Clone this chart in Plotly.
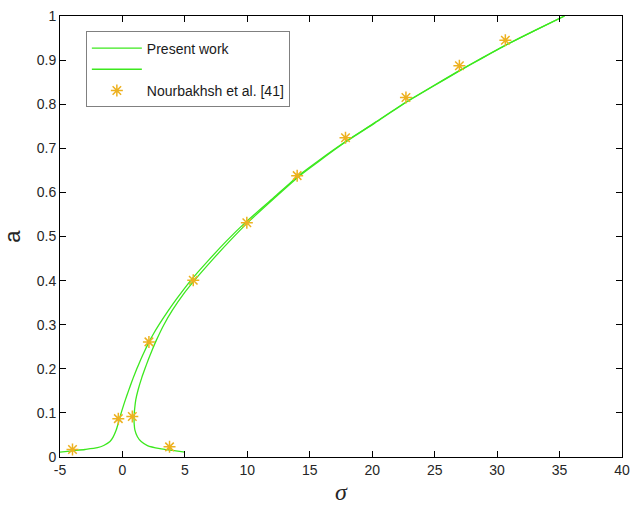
import plotly.graph_objects as go

# Present work - branch 1 (left / upper branch)
sigma_branch1 = [-5.0, -4.0, -3.0, -2.0, -1.5, -1.0, -0.75, -0.5, -0.3, -0.1,
                 0.12, 0.36, 0.61, 0.87, 1.15, 1.45, 1.77, 2.11, 2.5, 2.93,
                 3.63, 4.38, 5.46, 6.92, 8.34, 9.85, 12.1, 14.1, 15.75, 17.75,
                 20.15, 22.55, 24.8, 26.9, 28.8, 30.6, 33.0, 35.4]
a_branch1 = [0.011, 0.014, 0.017, 0.021, 0.026, 0.035, 0.045, 0.061, 0.080, 0.100,
             0.12, 0.14, 0.16, 0.18, 0.20, 0.22, 0.24, 0.26, 0.28, 0.30,
             0.33, 0.36, 0.40, 0.447, 0.49, 0.532, 0.588, 0.638, 0.673, 0.713,
             0.757, 0.802, 0.840, 0.875, 0.905, 0.933, 0.967, 1.0]

# Present work - branch 2 (right / lower branch)
sigma_branch2 = [5.0, 4.0, 3.0, 2.0, 1.5, 1.2, 1.0, 0.94, 0.93, 0.95,
                 0.98, 1.07, 1.25, 1.55, 1.8, 2.06, 2.34, 2.72, 3.32, 4.0,
                 4.9, 5.75, 7.2, 8.6, 10.05, 12.2, 14.2, 15.85, 17.8,
                 20.2, 22.6, 24.85, 26.95, 28.85, 30.65, 33.0, 35.4]
a_branch2 = [0.011, 0.015, 0.019, 0.026, 0.035, 0.046, 0.061, 0.075, 0.09, 0.10,
             0.11, 0.13, 0.152, 0.18, 0.20, 0.22, 0.24, 0.265, 0.30, 0.333,
             0.37, 0.40, 0.447, 0.49, 0.532, 0.588, 0.638, 0.673, 0.713,
             0.757, 0.802, 0.840, 0.875, 0.905, 0.933, 0.967, 1.0]

# Nourbakhsh et al. [41]
sigma_ref = [-4.0, -0.33, 0.79, 2.12, 3.77, 5.67, 9.96, 13.99, 17.86, 22.7, 26.98, 30.66]
a_ref = [0.017, 0.087, 0.092, 0.261, 0.023, 0.401, 0.531, 0.638, 0.724, 0.815, 0.887, 0.945]

x_ticks = [-5, 0, 5, 10, 15, 20, 25, 30, 35, 40]
x_tick_text = ["-5", "0", "5", "10", "15", "20", "25", "30", "35", "40"]
y_ticks = [0, 0.1, 0.2, 0.3, 0.4, 0.5, 0.6, 0.7, 0.8, 0.9, 1]
y_tick_text = ["0", "0.1", "0.2", "0.3", "0.4", "0.5", "0.6", "0.7", "0.8", "0.9", "1"]

green = "rgb(60,232,30)"
orange = "#EDB120"
sans = "Liberation Sans, Arial, sans-serif"

fig = go.Figure()
fig.add_trace(go.Scatter(x=sigma_branch1, y=a_branch1, mode="lines", name="Present work",
                         line=dict(color=green, width=1.3, shape="spline", smoothing=0.6)))
fig.add_trace(go.Scatter(x=sigma_branch2, y=a_branch2, mode="lines", name=" ",
                         line=dict(color=green, width=1.3, shape="spline", smoothing=0.6)))
fig.add_trace(go.Scatter(x=sigma_ref, y=a_ref, mode="markers", name="Nourbakhsh et al. [41]",
                         marker=dict(symbol="asterisk-open", size=10, color=orange,
                                     line=dict(color=orange, width=1.5))))

fig.update_layout(
    width=630, height=512,
    margin=dict(l=60, r=8, t=16, b=55, autoexpand=False),
    plot_bgcolor="white", paper_bgcolor="white",
    font=dict(family=sans, size=14, color="#262626"),
    showlegend=True,
    legend=dict(x=0.046, y=0.965, xanchor="left", yanchor="top",
                bordercolor="#808080", borderwidth=1, bgcolor="white",
                font=dict(family=sans, size=14, color="#1a1a1a"),
                tracegroupgap=0, itemwidth=50),
    xaxis=dict(range=[-5, 40], tickvals=x_ticks, ticktext=x_tick_text,
               ticks="inside", ticklen=6, automargin=False, ticklabeloverflow="allow",
               showline=True, linecolor="black", linewidth=1, mirror="ticks",
               showgrid=False, zeroline=False, tickcolor="black",
               tickfont=dict(family=sans, size=14, color="#262626"),
               title=dict(text="<i>σ</i>",
                          font=dict(family="Liberation Serif, serif", size=24, color="#262626"),
                          standoff=6)),
    yaxis=dict(range=[0, 1], tickvals=y_ticks, ticktext=y_tick_text,
               ticks="inside", ticklen=6, automargin=False,
               showline=True, linecolor="black", linewidth=1, mirror="ticks",
               showgrid=False, zeroline=False, tickcolor="black",
               tickfont=dict(family=sans, size=14, color="#262626"),
               title=dict(text="a", font=dict(family=sans, size=22, color="#262626"),
                          standoff=12)),
)

fig.write_html("out.html")
